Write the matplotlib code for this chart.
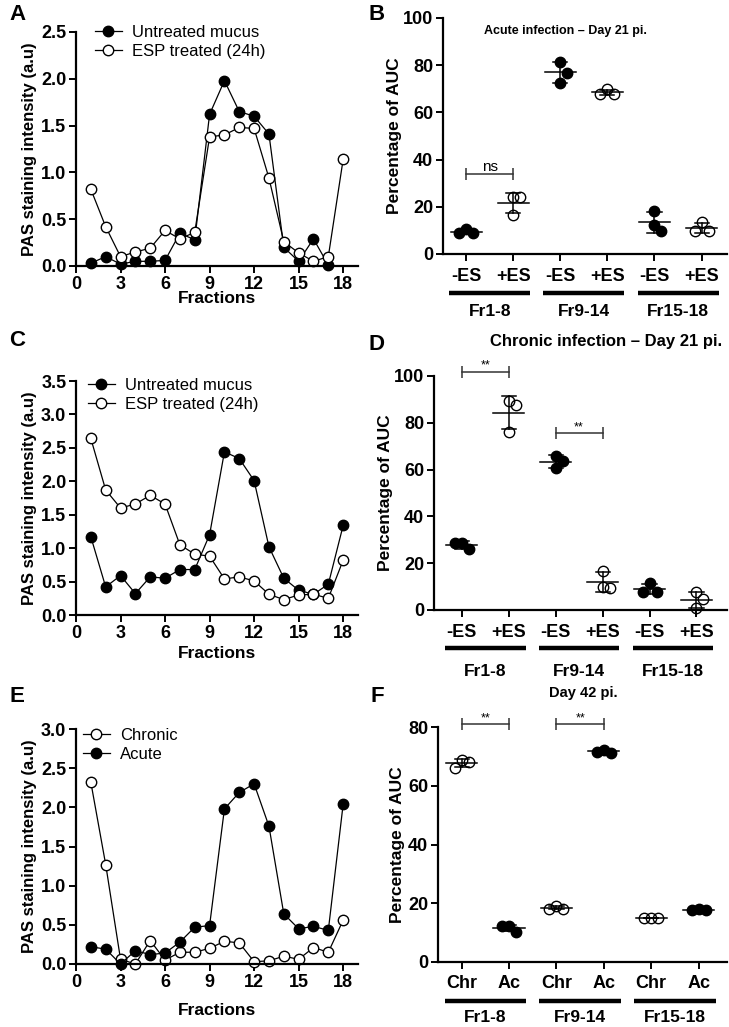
import numpy as np
import matplotlib.pyplot as plt
from matplotlib import transforms

plt.rcParams['font.family'] = ['Liberation Sans', 'DejaVu Sans']

# ---- data ----
fractions = np.arange(1, 19)

a_untreated = [0.03, 0.10, 0.02, 0.05, 0.05, 0.06, 0.35, 0.28, 1.62, 1.98, 1.65, 1.60,
               1.41, 0.20, 0.05, 0.29, 0.01, np.nan]
a_esp = [0.82, 0.42, 0.10, 0.15, 0.19, 0.38, 0.29, 0.36, 1.38, 1.40, 1.48, 1.47,
         0.94, 0.26, 0.14, 0.05, 0.10, 1.14]

c_untreated = [1.17, 0.42, 0.59, 0.32, 0.57, 0.55, 0.68, 0.68, 1.20, 2.44, 2.34, 2.01,
               1.02, 0.55, 0.37, 0.31, 0.46, 1.34]
c_esp = [2.64, 1.87, 1.60, 1.66, 1.79, 1.66, 1.05, 0.91, 0.88, 0.54, 0.57, 0.51,
         0.31, 0.23, 0.30, 0.31, 0.25, 0.82]

e_chronic = [2.32, 1.27, 0.06, 0.00, 0.30, 0.05, 0.15, 0.15, 0.20, 0.29, 0.27, 0.03,
             0.04, 0.10, 0.06, 0.21, 0.15, 0.56]
e_acute = [0.22, 0.19, 0.00, 0.17, 0.12, 0.14, 0.28, 0.47, 0.49, 1.98, 2.19, 2.30,
           1.76, 0.64, 0.45, 0.48, 0.43, 2.04]

groups = ['Fr1-8', 'Fr9-14', 'Fr15-18']
es_labels = ['-ES', '+ES', '-ES', '+ES', '-ES', '+ES']
b_values = [[10.5, 8.8, 8.8], [24.0, 24.0, 16.5], [81.5, 76.8, 72.5],
            [69.8, 67.8, 67.8], [18.2, 12.3, 9.7], [13.7, 9.7, 9.7]]
b_filled = [True, False, True, False, True, False]

d_values = [[28.8, 25.9, 28.8], [89.3, 87.6, 76.2], [66.0, 63.5, 60.5],
            [16.8, 10.0, 9.3], [11.4, 7.8, 7.8], [7.6, 4.6, 0.7]]

f_labels = ['Chr', 'Ac', 'Chr', 'Ac', 'Chr', 'Ac']
f_values = [[68.7, 68.1, 66.2], [12.2, 10.3, 12.2], [19.1, 18.2, 18.2],
            [72.3, 71.2, 71.5], [15.1, 15.0, 15.1], [18.2, 17.7, 17.7]]
f_filled = [False, True, False, True, False, True]

b_sig = [(0, 1, 34, 'ns')]
d_sig = [(0, 1, 101.8, '**'), (2, 3, 75.5, '**')]
f_sig = [(0, 1, 81, '**'), (2, 3, 81, '**')]

# ---- layout helpers ----
W, H = 729, 1027
fig = plt.figure(figsize=(W / 100, H / 100), dpi=100)


def px_axes(l, t, r, b):
    ax = fig.add_axes([l / W, 1 - b / H, (r - l) / W, (b - t) / H])
    ax.spines['top'].set_visible(False)
    ax.spines['right'].set_visible(False)
    for s in ['left', 'bottom']:
        ax.spines[s].set_linewidth(1.6)
    ax.tick_params(direction='out', length=5, width=1.4, labelsize=13, pad=2)
    return ax, (b - t)


def px_text(x, y, s, **kw):
    fig.text(x / W, 1 - y / H, s, **kw)


def bold_ticks(ax):
    for lab in ax.get_xticklabels() + ax.get_yticklabels():
        lab.set_fontweight('bold')


def line_panel(ax, series, ylim, yticks, leg_xy):
    handles = []
    for vals, filled, label in series:
        h, = ax.plot(fractions, vals, '-o', color='black', lw=0.9, ms=7.5, mew=1.0,
                     mfc='black' if filled else 'white', mec='black', label=label,
                     clip_on=False)
        handles.append(h)
    ax.set_xlim(0, 19)
    ax.set_ylim(*ylim)
    ax.set_xticks(np.arange(0, 19, 3))
    ax.set_yticks(yticks)
    ax.set_yticklabels(['%.1f' % t for t in yticks])
    ax.set_ylabel('PAS staining intensity (a.u)', fontsize=12, fontweight='bold', labelpad=3)
    bold_ticks(ax)
    ax.legend(handles=handles, loc='upper left', frameon=False, fontsize=12,
              bbox_to_anchor=(leg_xy[0] / W, 1 - leg_xy[1] / H),
              bbox_transform=fig.transFigure, borderpad=0, borderaxespad=0,
              handlelength=1.6, handletextpad=0.6, labelspacing=0.25)


def swarm_x(ax, x, vals, step=7.0, row=12.0):
    # spread points sideways when they sit close in value (Prism-like scatter)
    pts = ax.transData.transform([(x, v) for v in vals])
    placed = []
    for px, py in pts:
        for k in [0, 1, -1, 2, -2, 3, -3]:
            cx = px + k * step
            if all(not (abs(py - qy) < row and abs(cx - qx) < step - 0.01)
                   for qx, qy in placed):
                break
        placed.append((cx, py))
    inv = ax.transData.inverted()
    return [inv.transform((cx, cy))[0] for cx, cy in placed]


def dot_panel(ax, ax_h, values, filled, cat_labels, ylim, yticks, xlim, sig,
              offs=(20, 39, 58), ylabelpad=2):
    ax.set_xlim(*xlim)
    ax.set_ylim(*ylim)
    ax.set_yticks(yticks)
    ax.set_xticks(range(len(values)))
    ax.set_xticklabels(cat_labels, fontsize=13, fontweight='bold')
    ax.tick_params(axis='x', pad=offs[0] - 14)
    bold_ticks(ax)
    for i, vals in enumerate(values):
        m = np.mean(vals)
        sd = np.std(vals, ddof=1)
        ax.plot([i - 0.33, i + 0.33], [m, m], color='black', lw=1.1, zorder=3)
        ax.plot([i, i], [m - sd, m + sd], color='black', lw=1.1, zorder=3)
        for y in (m - sd, m + sd):
            ax.plot([i - 0.15, i + 0.15], [y, y], color='black', lw=1.1, zorder=3)
        xs = swarm_x(ax, i, vals)
        ax.plot(xs, vals, 'o', ms=7.5, mew=1.0, mec='black',
                mfc='black' if filled[i] else 'none', zorder=4, clip_on=False)
    ax.set_ylabel('Percentage of AUC', fontsize=12.5, fontweight='bold', labelpad=ylabelpad)
    # significance brackets
    for x0, x1, y, txt in sig:
        ax.plot([x0, x1], [y, y], color='#333333', lw=1.1, clip_on=False)
        ax.plot([x0, x1], [y, y], linestyle='none', color='#333333', marker='|', ms=9,
                mew=1.1, clip_on=False)
        ax.text((x0 + x1) / 2, y, txt, ha='center', va='bottom',
                fontsize=11 if txt == 'ns' else 9, clip_on=False)
    # group underlines and labels
    trans = transforms.blended_transform_factory(ax.transData, ax.transAxes)
    for g, name in enumerate(groups):
        c = 2 * g + 0.5
        ax.plot([c - 0.86, c + 0.86], [-offs[1] / ax_h] * 2, color='black', lw=3.2,
                transform=trans, clip_on=False, solid_capstyle='butt')
        ax.text(c, -offs[2] / ax_h, name, transform=trans, ha='center', va='center',
                fontsize=12.5, fontweight='bold')


# ---- panel A ----
axA, _ = px_axes(76, 32, 358, 266)
line_panel(axA, [(a_untreated, True, 'Untreated mucus'), (a_esp, False, 'ESP treated (24h)')],
           (0, 2.5), np.arange(0, 2.51, 0.5), (95, 25))
axA.set_xlabel('Fractions', fontsize=12.5, fontweight='bold', labelpad=-1)

# ---- panel C ----
axC, _ = px_axes(76, 381, 358, 615)
line_panel(axC, [(c_untreated, True, 'Untreated mucus'), (c_esp, False, 'ESP treated (24h)')],
           (0, 3.5), np.arange(0, 3.51, 0.5), (88, 378))
axC.set_xlabel('Fractions', fontsize=12.5, fontweight='bold', labelpad=3)

# ---- panel E ----
axE, _ = px_axes(76, 729, 358, 964)
line_panel(axE, [(e_chronic, False, 'Chronic'), (e_acute, True, 'Acute')],
           (0, 3.0), np.arange(0, 3.01, 0.5), (83, 728))
axE.set_xlabel('Fractions', fontsize=12.5, fontweight='bold', labelpad=9)

# ---- panel B ----
axB, hB = px_axes(443, 18, 727, 254)
dot_panel(axB, hB, b_values, b_filled, es_labels, (0, 100), np.arange(0, 101, 20),
          (-0.49, 5.54), b_sig, offs=(19, 39, 58), ylabelpad=1)

# ---- panel D ----
axD, hD = px_axes(434, 376, 727, 610)
dot_panel(axD, hD, d_values, b_filled, es_labels, (0, 100), np.arange(0, 101, 20),
          (-0.59, 5.65), d_sig, offs=(19, 38, 62), ylabelpad=1)

# ---- panel F ----
axF, hF = px_axes(438, 727, 727, 962)
dot_panel(axF, hF, f_values, f_filled, f_labels, (0, 80), np.arange(0, 81, 20),
          (-0.5, 5.6), f_sig, offs=(18, 39, 55), ylabelpad=2)

# titles placed in pixel coordinates (top-left origin)
px_text(565, 31, 'Acute infection \u2013 Day 21 pi.', fontsize=9, fontweight='bold',
        ha='center', va='center')
px_text(606, 342, 'Chronic infection \u2013 Day 21 pi.', fontsize=12, fontweight='bold',
        ha='center', va='center')
px_text(583, 693, 'Day 42 pi.', fontsize=10.5, fontweight='bold', ha='center', va='center')

for letter, x, y in [('A', 17, 14), ('B', 377, 14), ('C', 17, 341), ('D', 377, 345),
                     ('E', 17, 697), ('F', 377, 697)]:
    px_text(x, y, letter, fontsize=16, fontweight='bold', ha='center', va='center')

fig.savefig('out.png', dpi=100)
